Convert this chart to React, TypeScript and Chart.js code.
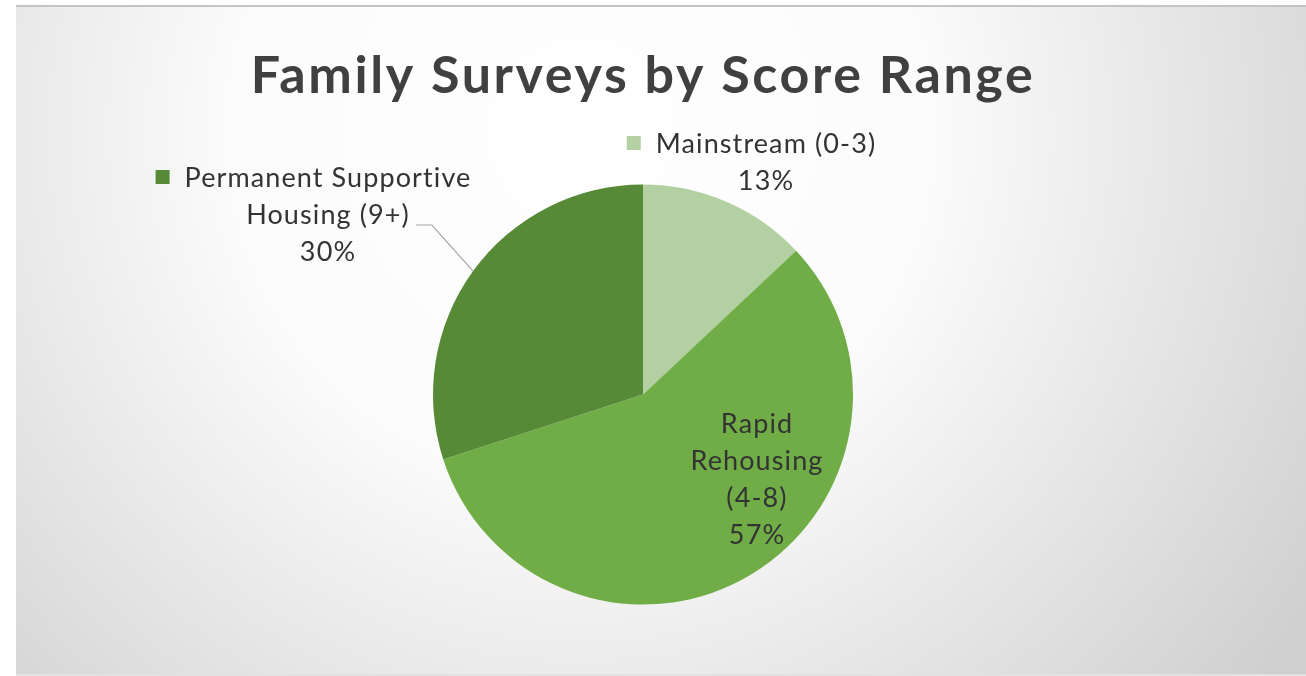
import React, { useEffect, useRef } from "react";
import { Chart, registerables } from "chart.js";

Chart.register(...registerables);

const titleText = "Family Surveys by Score Range";
const categories = ["Mainstream (0-3)", "Rapid Rehousing (4-8)", "Permanent Supportive Housing (9+)"];
const values = [13, 57, 30];
const labelLines = [["Mainstream (0-3)"], ["Rapid", "Rehousing", "(4-8)"], ["Permanent Supportive", "Housing (9+)"]];
const sliceColors = ["#B2D0A2", "#70AD47", "#578A37"];

const W = 1306;
const H = 676;
const FONT = "Lato, 'Open Sans', sans-serif";
const LABEL_SIZE = 27;
const LINE_H = 37;

// label block placement relative to pie centre: [dx of text centre, dy of first baseline, showKey, leader]
const labelPlacement = [
  { dx: 123, dy: -241.5, key: true, leader: false },
  { dx: 114, dy: 38.5, key: false, leader: false },
  { dx: -315, dy: -207.5, key: true, leader: true },
];

const bgPlugin = {
  id: "bgPlugin",
  beforeDraw(chart: any) {
    const ctx = chart.ctx as CanvasRenderingContext2D;
    ctx.save();
    ctx.fillStyle = "#ffffff";
    ctx.fillRect(0, 0, W, H);
    const g = ctx.createRadialGradient(580, 130, 0, 580, 130, 880);
    g.addColorStop(0, "#ffffff");
    g.addColorStop(0.4, "#fbfbfb");
    g.addColorStop(1, "#cfcfcf");
    ctx.fillStyle = g;
    ctx.fillRect(16, 5, W - 16, H - 5);
    ctx.fillStyle = "#c4c4c4";
    ctx.fillRect(16, 5, W - 16, 2);
    ctx.fillStyle = "#e2e2e2";
    ctx.fillRect(16, H - 2, W - 16, 2);
    ctx.restore();
  },
};

const labelPlugin = {
  id: "labelPlugin",
  afterDraw(chart: any) {
    const ctx = chart.ctx as any;
    const meta = chart.getDatasetMeta(0);
    const ds = chart.data.datasets[0];
    ctx.save();
    // title
    ctx.fillStyle = "#404040";
    ctx.font = `bold 52px ${FONT}`;
    ctx.letterSpacing = "2.6px";
    ctx.textAlign = "center";
    ctx.textBaseline = "alphabetic";
    ctx.fillText(titleText, (chart.chartArea.left + chart.chartArea.right) / 2, 93);

    meta.data.forEach((arc: any, i: number) => {
      const p = labelPlacement[i];
      const cx = arc.x + p.dx;
      const by = arc.y + p.dy;
      const lines = [...labelLines[i], `${values[i]}%`];
      ctx.font = `${LABEL_SIZE}px ${FONT}`;
      ctx.letterSpacing = "1.1px";
      ctx.fillStyle = "#333333";
      ctx.textAlign = "center";
      lines.forEach((ln, k) => {
        ctx.fillText(ln, cx, by + k * LINE_H);
      });
      if (p.key) {
        const w = ctx.measureText(lines[0]).width;
        const left = cx - w / 2;
        ctx.fillStyle = ds.backgroundColor[i];
        ctx.fillRect(left - 29, by - 17, 14, 14);
      }
      if (p.leader) {
        const w2 = ctx.measureText(lines[1]).width;
        const sx = cx + w2 / 2 + 6;
        const sy = by + LINE_H + 1;
        const mid = (arc.startAngle + arc.endAngle) / 2;
        const ex = arc.x + Math.cos(mid) * arc.outerRadius;
        const ey = arc.y + Math.sin(mid) * arc.outerRadius;
        ctx.strokeStyle = "#a6a6a6";
        ctx.lineWidth = 1.2;
        ctx.beginPath();
        ctx.moveTo(sx, sy);
        ctx.lineTo(sx + 16, sy);
        ctx.lineTo(ex, ey);
        ctx.stroke();
      }
    });
    ctx.restore();
  },
};

export default function App() {
  const ref = useRef<HTMLCanvasElement | null>(null);
  useEffect(() => {
    if (!ref.current) return;
    const chart = new Chart(ref.current, {
      type: "pie",
      data: {
        labels: categories,
        datasets: [
          {
            data: values,
            backgroundColor: sliceColors,
            borderWidth: 0,
          },
        ],
      },
      options: {
        responsive: false,
        animation: false,
        radius: 210,
        layout: { padding: { left: 0, right: 20, top: 113, bottom: 0 } },
        plugins: {
          legend: { display: false },
          title: { display: false },
          tooltip: { enabled: false },
        },
      },
      plugins: [bgPlugin, labelPlugin],
    });
    return () => chart.destroy();
  }, []);
  return (
    <div style={{ position: "fixed", left: 0, top: 0, width: W, height: H, background: "#fff" }}>
      <canvas ref={ref} width={W} height={H} style={{ display: "block", width: W, height: H }} />
    </div>
  );
}
